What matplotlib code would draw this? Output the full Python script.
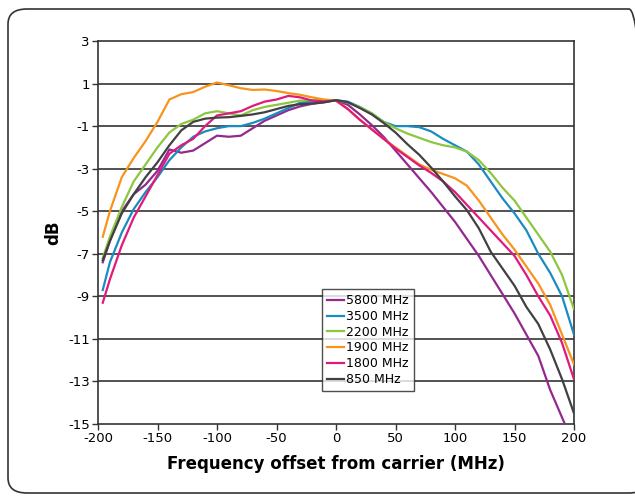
import matplotlib
matplotlib.use("Agg")
import matplotlib.pyplot as plt
from matplotlib.patches import FancyBboxPatch

# frequency offset from carrier (MHz)
offset = [-196, -190, -180, -170, -160, -150, -140, -130, -120, -110,
          -100, -90, -80, -70, -60, -50, -40, -30, -20, -10,
          0, 10, 20, 30, 40, 50, 60, 70, 80, 90,
          100, 110, 120, 130, 140, 150, 160, 170, 180, 190, 200]

db_5800 = [-7.4, -6.4, -5.0, -4.2, -3.75, -3.1, -2.1, -2.25, -2.15, -1.8,
           -1.45, -1.5, -1.45, -1.1, -0.75, -0.5, -0.25, -0.07, 0.05, 0.12,
           0.22, 0.0, -0.45, -0.95, -1.5, -2.15, -2.8, -3.45, -4.1, -4.8,
           -5.5, -6.3, -7.1, -8.0, -8.9, -9.8, -10.8, -11.8, -13.4, -14.7, -16.0]
db_3500 = [-8.7, -7.4, -6.0, -4.9, -4.1, -3.4, -2.6, -2.0, -1.5, -1.25,
           -1.1, -1.0, -1.0, -0.85, -0.65, -0.4, -0.15, 0.1, 0.15, 0.18,
           0.22, 0.15, -0.1, -0.4, -0.8, -1.0, -1.0, -1.05, -1.25, -1.6,
           -1.9, -2.2, -2.8, -3.6, -4.4, -5.1, -5.9, -7.0, -7.9, -9.0, -10.8]
db_2200 = [-7.2, -6.2, -4.8, -3.6, -2.8, -2.0, -1.3, -0.9, -0.7, -0.4,
           -0.3, -0.4, -0.5, -0.25, -0.1, 0.0, 0.1, 0.2, 0.22, 0.22,
           0.22, 0.1, -0.1, -0.4, -0.8, -1.1, -1.35, -1.55, -1.75, -1.9,
           -2.0, -2.2, -2.6, -3.2, -3.9, -4.5, -5.3, -6.1, -6.9, -8.0, -9.6]
db_1900 = [-6.2, -5.0, -3.4, -2.5, -1.7, -0.8, 0.25, 0.5, 0.6, 0.85,
           1.05, 0.92, 0.78, 0.7, 0.72, 0.65, 0.55, 0.47, 0.35, 0.25,
           0.2, -0.2, -0.7, -1.15, -1.6, -2.0, -2.4, -2.8, -3.05, -3.25,
           -3.45, -3.8, -4.5, -5.3, -6.1, -6.8, -7.6, -8.4, -9.4, -10.8, -12.2]
db_1800 = [-9.3, -8.2, -6.6, -5.3, -4.3, -3.3, -2.3, -1.9, -1.6, -1.0,
           -0.5, -0.4, -0.3, -0.05, 0.15, 0.25, 0.42, 0.35, 0.2, 0.16,
           0.2, -0.2, -0.7, -1.15, -1.6, -2.05, -2.45, -2.85, -3.2, -3.6,
           -4.1, -4.7, -5.3, -5.9, -6.5, -7.1, -8.0, -9.0, -9.9, -11.2, -12.9]
db_850 = [-7.3, -6.4, -5.1, -4.2, -3.4, -2.7, -1.9, -1.2, -0.8, -0.65,
          -0.6, -0.58, -0.52, -0.45, -0.35, -0.2, -0.05, 0.03, 0.06, 0.12,
          0.22, 0.12, -0.15, -0.45, -0.85, -1.3, -1.85, -2.35, -2.95, -3.6,
          -4.3, -4.95, -5.8, -6.9, -7.7, -8.5, -9.5, -10.3, -11.5, -12.9, -14.5]

series = [
    ("5800 MHz", db_5800, "#93298f"),
    ("3500 MHz", db_3500, "#1a8cc0"),
    ("2200 MHz", db_2200, "#8dc63f"),
    ("1900 MHz", db_1900, "#f7941d"),
    ("1800 MHz", db_1800, "#e0197d"),
    ("850 MHz", db_850, "#414042"),
]

plt.rcParams["font.family"] = ["DejaVu Sans"]
plt.rcParams["axes.unicode_minus"] = False

fig = plt.figure(figsize=(6.35, 5.01), dpi=100)
fig.patches.append(FancyBboxPatch((8 / 635, 8 / 501), 640 / 635, 484 / 501,
                                  boxstyle="round,pad=0,rounding_size=0.03",
                                  transform=fig.transFigure, facecolor="none",
                                  edgecolor="#333333", linewidth=1.2))

ax = fig.add_axes([98 / 635, 1 - 424 / 501, 476 / 635, 383 / 501])
for y in range(-13, 3, 2):
    ax.axhline(y, color="#333333", linewidth=1.2, zorder=1)

for label, vals, color in series:
    ax.plot(offset, vals, color=color, linewidth=1.6, label=label, zorder=3)

ax.set_xlim(-200, 200)
ax.set_ylim(-15, 3)
ax.set_xticks(range(-200, 201, 50))
ax.set_yticks(range(-15, 4, 2))
ax.tick_params(labelsize=9.5, length=4, width=1, color="#333333", pad=2)
for s in ax.spines.values():
    s.set_color("#333333")
    s.set_linewidth(1.2)

ax.set_xlabel("Frequency offset from carrier (MHz)", fontsize=12, fontweight="bold", labelpad=7)
ax.set_ylabel("dB", fontsize=12, fontweight="bold", labelpad=4)

leg = ax.legend(loc="lower left", bbox_to_anchor=(0.458, 0.07), fontsize=9,
                frameon=True, fancybox=False, edgecolor="#222222",
                handlelength=1.3, handletextpad=0.2, borderpad=0.4,
                labelspacing=0.22)
leg.get_frame().set_linewidth(1.0)

fig.savefig("out.png", dpi=100)
